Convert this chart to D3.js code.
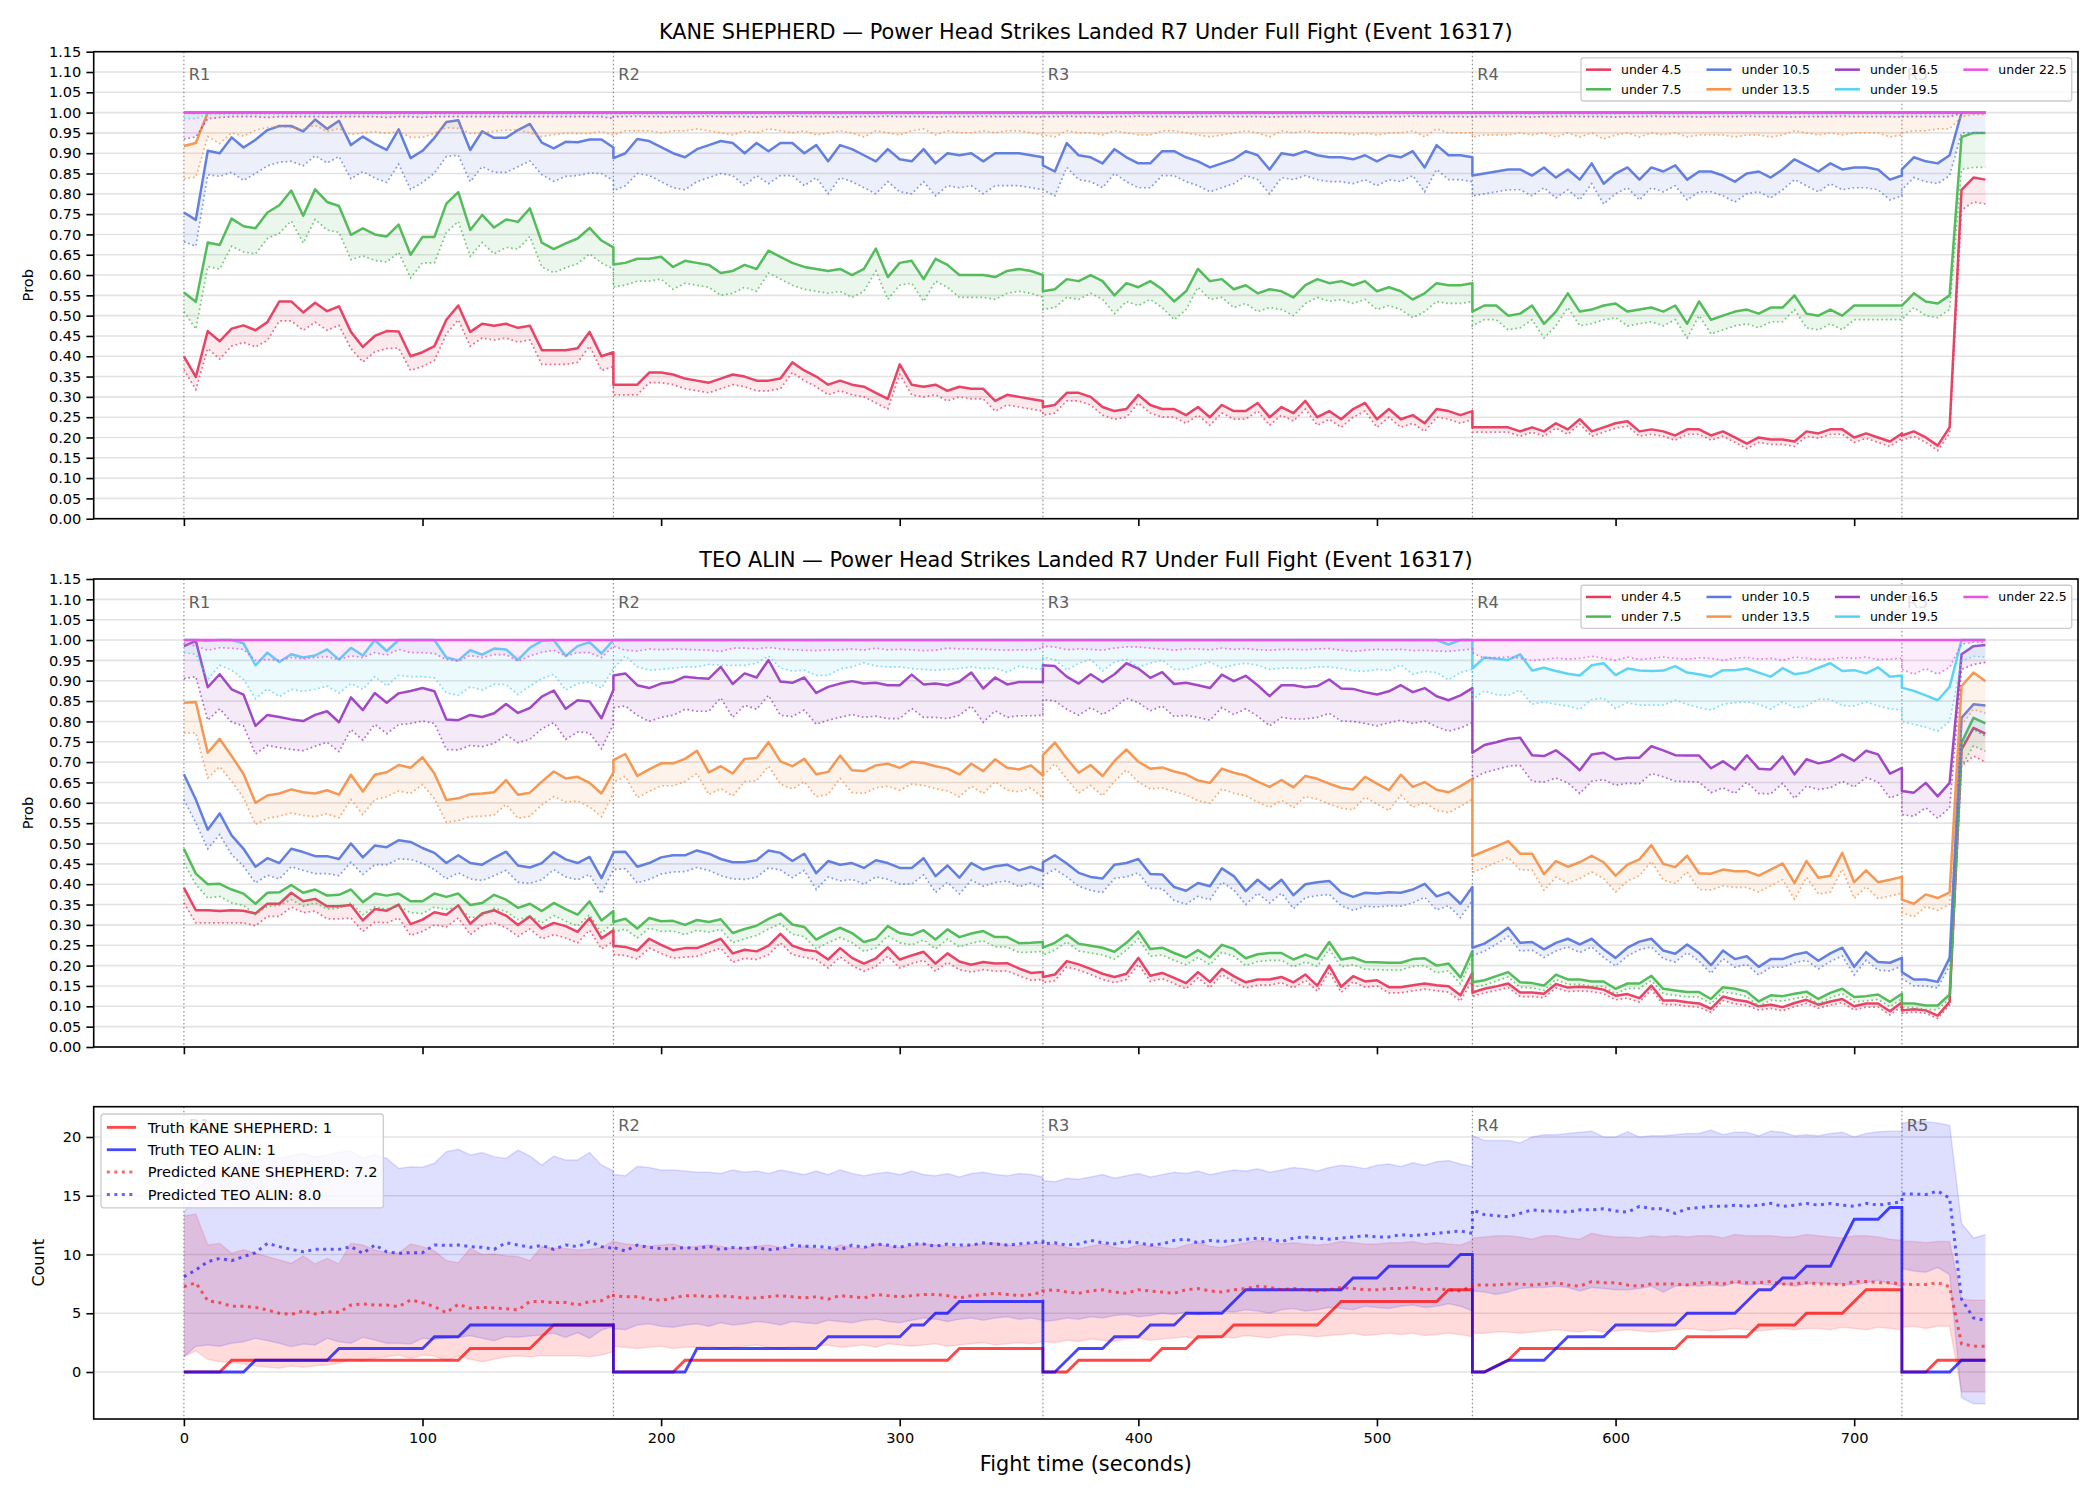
<!DOCTYPE html>
<html><head><meta charset="utf-8"><title>chart</title>
<script src="https://cdn.jsdelivr.net/npm/d3@7/dist/d3.min.js"></script>
<style>html,body{margin:0;padding:0;background:#fff}svg text{font-family:"DejaVu Sans",sans-serif}</style>
</head><body>
<svg id="chart" width="2100" height="1500"></svg>
<script>
// ================= DATA =================
const roundStarts=[0,180,360,540,720];
const roundLabels=["R1","R2","R3","R4","R5"];
const sampleStep=5;
const xTickValues=[0,100,200,300,400,500,600,700];
const probTickValues=[0,0.05,0.10,0.15,0.20,0.25,0.30,0.35,0.40,0.45,0.50,0.55,0.60,0.65,0.70,0.75,0.80,0.85,0.90,0.95,1.00,1.05,1.10,1.15];
const countTickValues=[0,5,10,15,20];
const seriesNames=["under 4.5","under 7.5","under 10.5","under 13.5","under 16.5","under 19.5","under 22.5"];
const panelTitles=["KANE SHEPHERD — Power Head Strikes Landed R7 Under Full Fight (Event 16317)","TEO ALIN — Power Head Strikes Landed R7 Under Full Fight (Event 16317)"];
const countLegendLabels=["Truth KANE SHEPHERD: 1","Truth TEO ALIN: 1","Predicted KANE SHEPHERD: 7.2","Predicted TEO ALIN: 8.0"];

const ones37=[1,1,1,1,1,1,1,1,1,1,1,1,1,1,1,1,1,1,1,1,1,1,1,1,1,1,1,1,1,1,1,1,1,1,1,1,1];
const ones8=[1,1,1,1,1,1,1,1];

// ---- KANE SHEPHERD (panel 1), per round ----
const kane_u45=[
[.40,.349,.462,.437,.468,.476,.464,.484,.535,.535,.508,.532,.511,.523,.46,.423,.45,.462,.461,.40,.41,.425,.49,.525,.46,.48,.475,.48,.47,.475,.415,.415,.415,.42,.46,.40,.41],
[.33,.33,.33,.36,.36,.355,.345,.34,.335,.345,.355,.35,.34,.34,.345,.385,.365,.35,.33,.34,.33,.325,.31,.295,.38,.33,.325,.33,.315,.325,.32,.32,.29,.305,.30,.295,.29],
[.275,.28,.31,.31,.30,.275,.265,.27,.305,.28,.27,.27,.255,.275,.25,.28,.265,.265,.285,.25,.275,.26,.29,.25,.265,.245,.27,.285,.245,.27,.245,.255,.235,.27,.265,.255,.265],
[.225,.225,.225,.225,.215,.225,.215,.235,.22,.245,.215,.225,.235,.24,.215,.22,.215,.205,.22,.22,.205,.215,.20,.185,.20,.195,.195,.19,.215,.21,.22,.22,.20,.21,.20,.19,.21],
[.205,.215,.20,.18,.225,.81,.84,.835]];
const kane_u45_lo=[
[.367,.318,.419,.393,.425,.434,.423,.439,.487,.487,.464,.484,.464,.476,.419,.386,.411,.419,.42,.365,.375,.39,.455,.49,.425,.445,.44,.445,.435,.44,.38,.38,.38,.385,.425,.365,.375],
[.305,.305,.305,.335,.335,.33,.32,.315,.31,.32,.33,.325,.315,.315,.32,.36,.34,.325,.305,.315,.305,.30,.285,.27,.355,.305,.30,.305,.29,.30,.295,.295,.265,.28,.275,.27,.265],
[.255,.26,.29,.29,.28,.255,.245,.25,.285,.26,.25,.25,.235,.255,.23,.26,.245,.245,.265,.23,.255,.24,.27,.23,.245,.225,.25,.265,.225,.25,.225,.235,.215,.25,.245,.235,.245],
[.213,.213,.213,.213,.203,.213,.203,.223,.208,.233,.203,.213,.223,.228,.203,.208,.203,.193,.208,.208,.193,.203,.188,.173,.188,.183,.183,.178,.203,.198,.208,.208,.188,.198,.188,.178,.198],
[.193,.203,.188,.168,.21,.76,.78,.775]];
const kane_u75=[
[.557,.534,.68,.674,.739,.72,.715,.754,.772,.808,.746,.811,.78,.77,.699,.715,.70,.695,.724,.65,.694,.694,.776,.804,.711,.748,.717,.737,.731,.764,.68,.664,.678,.69,.716,.685,.668],
[.626,.63,.64,.64,.645,.62,.635,.63,.625,.605,.61,.625,.615,.66,.645,.63,.62,.615,.61,.615,.60,.615,.665,.595,.63,.635,.59,.64,.625,.60,.60,.60,.595,.61,.615,.61,.60],
[.56,.565,.59,.585,.60,.585,.55,.58,.57,.585,.565,.535,.56,.615,.585,.59,.565,.575,.555,.565,.56,.545,.575,.59,.58,.585,.575,.585,.56,.57,.56,.54,.555,.58,.575,.575,.58],
[.51,.525,.525,.50,.505,.525,.48,.51,.555,.51,.515,.525,.53,.51,.515,.52,.51,.525,.48,.535,.49,.50,.51,.515,.505,.52,.52,.55,.505,.50,.515,.50,.525,.525,.525,.525,.525],
[.525,.555,.535,.53,.55,.94,.95,.95]];
const kane_u75_lo=[
[.51,.467,.621,.615,.671,.657,.652,.69,.703,.733,.679,.737,.711,.705,.638,.647,.636,.632,.656,.593,.63,.63,.705,.732,.646,.68,.652,.668,.664,.695,.62,.606,.618,.628,.652,.63,.615],
[.571,.575,.585,.585,.59,.565,.58,.575,.57,.55,.555,.57,.56,.605,.59,.575,.565,.56,.555,.56,.545,.56,.61,.54,.575,.58,.535,.585,.57,.545,.545,.545,.54,.555,.56,.555,.545],
[.515,.52,.545,.54,.555,.54,.505,.535,.525,.54,.52,.49,.515,.57,.54,.545,.52,.53,.51,.52,.515,.50,.53,.545,.535,.54,.53,.54,.515,.525,.515,.495,.51,.535,.53,.53,.535],
[.475,.49,.49,.465,.47,.49,.445,.475,.52,.475,.48,.49,.495,.475,.48,.485,.475,.49,.445,.50,.455,.465,.475,.48,.47,.485,.485,.515,.47,.465,.48,.465,.49,.49,.49,.49,.49],
[.49,.52,.50,.495,.515,.86,.865,.865]];
const kane_u105=[
[.754,.736,.906,.90,.939,.914,.933,.957,.967,.967,.954,.983,.96,.98,.92,.941,.923,.908,.959,.888,.906,.938,.977,.981,.908,.954,.938,.938,.957,.972,.926,.912,.928,.927,.934,.934,.914],
[.888,.90,.935,.93,.915,.90,.89,.91,.92,.93,.925,.90,.925,.905,.925,.925,.90,.92,.88,.92,.91,.895,.88,.91,.885,.88,.91,.875,.90,.895,.90,.88,.90,.90,.90,.895,.89],
[.87,.855,.925,.895,.89,.875,.91,.89,.875,.875,.905,.905,.89,.88,.865,.875,.885,.905,.895,.86,.90,.895,.905,.895,.89,.89,.885,.895,.88,.895,.89,.905,.865,.92,.895,.895,.89],
[.845,.85,.855,.86,.86,.845,.865,.84,.86,.835,.875,.825,.85,.865,.835,.865,.855,.87,.835,.855,.855,.845,.83,.85,.855,.84,.86,.885,.87,.855,.875,.86,.865,.865,.86,.835,.845],
[.86,.89,.88,.875,.895,1,1,1]];
const kane_u105_lo=[
[.682,.671,.847,.843,.853,.833,.85,.869,.878,.88,.869,.894,.876,.892,.837,.855,.839,.828,.873,.811,.828,.851,.892,.895,.83,.867,.853,.853,.867,.881,.847,.831,.843,.845,.851,.85,.833],
[.808,.82,.85,.845,.83,.815,.81,.83,.84,.85,.845,.82,.845,.825,.845,.845,.82,.84,.80,.84,.83,.815,.80,.83,.805,.80,.83,.795,.82,.815,.82,.80,.82,.82,.82,.815,.81],
[.81,.795,.865,.835,.83,.815,.85,.83,.815,.815,.845,.845,.83,.82,.805,.815,.825,.845,.835,.80,.84,.835,.845,.835,.83,.83,.825,.835,.82,.835,.83,.845,.805,.86,.835,.835,.83],
[.795,.80,.805,.81,.81,.795,.815,.79,.81,.785,.825,.775,.80,.815,.785,.815,.805,.82,.785,.805,.805,.795,.78,.80,.805,.79,.81,.835,.82,.805,.825,.81,.815,.815,.81,.785,.795],
[.81,.84,.83,.825,.845,.95,.95,.95]];
const kane_u135=[
[.918,.925,1,1,1,1,1,1,1,1,1,1,1,1,1,1,1,1,1,1,1,1,1,1,1,1,1,1,1,1,1,1,1,1,1,1,1],
ones37,ones37,ones37,ones8];
const kane_u135_lo=[
[.837,.841,.941,.924,.95,.942,.957,.963,.965,.963,.959,.969,.953,.961,.946,.95,.953,.949,.953,.939,.939,.949,.963,.961,.949,.949,.954,.957,.957,.95,.941,.946,.949,.949,.949,.953,.945],
[.945,.955,.955,.955,.95,.955,.955,.96,.955,.95,.945,.955,.95,.96,.955,.95,.955,.945,.95,.955,.95,.94,.955,.95,.945,.955,.96,.945,.955,.95,.95,.955,.95,.955,.955,.95,.945],
[.945,.94,.955,.95,.95,.945,.955,.95,.945,.945,.955,.955,.95,.945,.94,.945,.95,.955,.95,.94,.955,.95,.955,.95,.95,.95,.945,.95,.945,.95,.95,.955,.94,.96,.95,.95,.95],
[.94,.945,.945,.945,.95,.945,.95,.94,.95,.94,.95,.935,.945,.95,.94,.95,.945,.95,.94,.945,.945,.945,.94,.945,.945,.94,.945,.955,.95,.945,.95,.945,.95,.95,.95,.94,.945],
[.95,.955,.955,.96,.96,.99,.995,.995]];
const kane_u165=[ones37,ones37,ones37,ones37,ones8];
const kane_u165_lo=[
[.935,.94,.985,.988,.99,.99,.99,.988,.99,.99,.99,.99,.989,.99,.99,.99,.99,.988,.99,.99,.988,.99,.99,.99,.99,.99,.99,.99,.99,.99,.99,.99,.99,.99,.99,.99,.985],
[.99,.99,.991,.99,.99,.989,.99,.99,.991,.99,.99,.99,.989,.99,.99,.991,.99,.99,.99,.989,.99,.99,.99,.991,.99,.99,.99,.989,.99,.99,.99,.991,.99,.99,.99,.99,.989],
[.99,.99,.991,.99,.99,.989,.99,.99,.991,.99,.99,.99,.989,.99,.99,.991,.99,.99,.99,.989,.99,.99,.99,.991,.99,.99,.99,.989,.99,.99,.99,.991,.99,.99,.99,.99,.989],
[.99,.99,.991,.99,.99,.989,.99,.99,.991,.99,.99,.99,.989,.99,.99,.991,.99,.99,.99,.989,.99,.99,.99,.991,.99,.99,.99,.989,.99,.99,.99,.991,.99,.99,.99,.99,.989],
[.99,.99,.99,.99,.99,.998,.998,.998]];
const kane_u195=[ones37,ones37,ones37,ones37,ones8];
const kane_u195_lo=[
[.985,.985,.997,.997,.997,.997,.997,.997,.997,.997,.997,.997,.997,.997,.997,.997,.997,.997,.997,.997,.997,.997,.997,.997,.997,.997,.997,.997,.997,.997,.997,.997,.997,.997,.997,.997,.997],
[.997,.997,.997,.997,.997,.997,.997,.997,.997,.997,.997,.997,.997,.997,.997,.997,.997,.997,.997,.997,.997,.997,.997,.997,.997,.997,.997,.997,.997,.997,.997,.997,.997,.997,.997,.997,.997],
[.997,.997,.997,.997,.997,.997,.997,.997,.997,.997,.997,.997,.997,.997,.997,.997,.997,.997,.997,.997,.997,.997,.997,.997,.997,.997,.997,.997,.997,.997,.997,.997,.997,.997,.997,.997,.997],
[.997,.997,.997,.997,.997,.997,.997,.997,.997,.997,.997,.997,.997,.997,.997,.997,.997,.997,.997,.997,.997,.997,.997,.997,.997,.997,.997,.997,.997,.997,.997,.997,.997,.997,.997,.997,.997],
[.997,.997,.997,.997,.997,.999,.999,.999]];
const kane_u225=[ones37,ones37,ones37,ones37,ones8];
const kane_u225_lo=[
[.998,.998,.999,.999,.999,.999,.999,.999,.999,.999,.999,.999,.999,.999,.999,.999,.999,.999,.999,.999,.999,.999,.999,.999,.999,.999,.999,.999,.999,.999,.999,.999,.999,.999,.999,.999,.999],
[.999,.999,.999,.999,.999,.999,.999,.999,.999,.999,.999,.999,.999,.999,.999,.999,.999,.999,.999,.999,.999,.999,.999,.999,.999,.999,.999,.999,.999,.999,.999,.999,.999,.999,.999,.999,.999],
[.999,.999,.999,.999,.999,.999,.999,.999,.999,.999,.999,.999,.999,.999,.999,.999,.999,.999,.999,.999,.999,.999,.999,.999,.999,.999,.999,.999,.999,.999,.999,.999,.999,.999,.999,.999,.999],
[.999,.999,.999,.999,.999,.999,.999,.999,.999,.999,.999,.999,.999,.999,.999,.999,.999,.999,.999,.999,.999,.999,.999,.999,.999,.999,.999,.999,.999,.999,.999,.999,.999,.999,.999,.999,.999],
[.999,.999,.999,.999,.999,.999,.999,.999]];

// ---- TEO ALIN (panel 2), per round ----
const teo_u45=[
[.391,.336,.336,.334,.336,.335,.328,.352,.352,.379,.358,.364,.346,.346,.349,.311,.339,.335,.35,.302,.313,.331,.325,.348,.303,.328,.336,.323,.30,.321,.291,.305,.297,.283,.317,.267,.287],
[.249,.246,.237,.266,.251,.238,.243,.243,.254,.266,.23,.239,.235,.249,.278,.249,.239,.235,.215,.243,.219,.205,.218,.245,.215,.225,.234,.205,.23,.21,.202,.209,.205,.206,.193,.182,.184],
[.172,.178,.211,.203,.192,.18,.172,.18,.219,.175,.182,.17,.157,.184,.16,.192,.174,.159,.166,.166,.172,.159,.178,.151,.20,.148,.174,.161,.164,.147,.147,.152,.156,.152,.149,.127,.182],
[.134,.143,.149,.156,.134,.134,.131,.155,.146,.148,.146,.141,.126,.13,.12,.151,.114,.114,.11,.107,.094,.124,.116,.112,.10,.104,.098,.108,.116,.104,.112,.118,.10,.107,.107,.088,.11],
[.09,.093,.09,.077,.111,.731,.784,.77]];
const teo_u45_lo=[
[.354,.305,.305,.305,.305,.305,.298,.321,.321,.344,.33,.334,.315,.315,.317,.284,.307,.305,.317,.274,.284,.30,.295,.317,.276,.298,.305,.293,.272,.29,.266,.276,.268,.256,.287,.241,.26],
[.227,.225,.216,.243,.23,.218,.221,.223,.233,.243,.208,.218,.215,.227,.256,.227,.22,.215,.194,.221,.20,.186,.198,.223,.194,.205,.213,.186,.208,.19,.184,.19,.186,.187,.175,.164,.166],
[.158,.163,.197,.189,.178,.166,.158,.166,.203,.161,.168,.156,.143,.17,.146,.178,.16,.145,.152,.152,.158,.145,.164,.137,.185,.134,.16,.147,.15,.133,.133,.138,.142,.138,.135,.113,.165],
[.124,.133,.139,.146,.124,.124,.121,.145,.136,.138,.136,.131,.116,.12,.11,.141,.104,.104,.10,.098,.085,.114,.106,.102,.091,.095,.089,.099,.107,.095,.103,.109,.091,.098,.098,.079,.10],
[.083,.086,.083,.07,.104,.69,.715,.70]];
const teo_u75=[
[.487,.426,.40,.401,.387,.377,.352,.379,.38,.398,.379,.387,.372,.374,.387,.356,.377,.372,.377,.358,.358,.377,.369,.377,.349,.354,.374,.362,.342,.352,.334,.354,.339,.325,.358,.311,.334],
[.307,.315,.291,.317,.309,.31,.30,.312,.307,.314,.28,.29,.298,.315,.328,.301,.295,.264,.28,.293,.28,.258,.266,.297,.28,.275,.287,.264,.289,.27,.279,.285,.27,.27,.255,.256,.258],
[.244,.256,.276,.254,.249,.244,.234,.256,.284,.241,.244,.231,.22,.238,.22,.251,.241,.218,.228,.231,.231,.215,.227,.216,.258,.215,.22,.209,.208,.207,.207,.216,.218,.20,.205,.171,.236],
[.159,.164,.174,.184,.159,.157,.151,.178,.166,.166,.161,.161,.143,.156,.156,.175,.143,.139,.135,.135,.118,.147,.143,.136,.112,.127,.125,.131,.136,.118,.133,.143,.123,.125,.129,.111,.131],
[.107,.107,.102,.102,.129,.748,.809,.795]];
const teo_u75_lo=[
[.452,.40,.366,.37,.354,.348,.325,.346,.348,.362,.346,.354,.339,.341,.354,.325,.344,.339,.346,.33,.328,.344,.338,.344,.317,.323,.341,.333,.313,.321,.305,.323,.309,.297,.325,.28,.305],
[.282,.29,.268,.292,.284,.285,.276,.287,.282,.289,.256,.266,.274,.29,.303,.277,.271,.241,.256,.269,.256,.235,.243,.273,.256,.251,.263,.241,.265,.246,.255,.261,.246,.246,.232,.233,.235],
[.226,.238,.258,.236,.231,.226,.216,.238,.266,.223,.226,.213,.202,.22,.202,.233,.223,.20,.21,.213,.213,.197,.209,.198,.24,.197,.202,.191,.19,.189,.189,.198,.20,.182,.187,.155,.218],
[.147,.152,.162,.172,.147,.145,.139,.166,.154,.154,.149,.149,.131,.144,.144,.163,.131,.127,.123,.123,.106,.135,.131,.124,.10,.115,.113,.119,.124,.106,.121,.131,.111,.113,.117,.099,.119],
[.097,.097,.092,.092,.119,.69,.74,.727]];
const teo_u105=[
[.67,.608,.534,.574,.52,.487,.443,.464,.452,.487,.479,.469,.469,.462,.50,.466,.495,.491,.508,.504,.489,.477,.452,.471,.452,.448,.465,.48,.446,.441,.452,.479,.461,.452,.467,.415,.477],
[.479,.48,.443,.452,.466,.471,.471,.483,.475,.462,.454,.454,.459,.483,.477,.457,.475,.427,.457,.448,.452,.44,.459,.452,.44,.44,.464,.42,.446,.416,.452,.436,.444,.448,.434,.443,.432],
[.454,.471,.451,.428,.418,.414,.448,.452,.462,.425,.424,.393,.384,.403,.395,.439,.42,.383,.411,.387,.411,.373,.40,.405,.408,.38,.369,.379,.377,.38,.379,.387,.401,.37,.38,.352,.393],
[.244,.254,.272,.293,.256,.258,.24,.256,.266,.252,.266,.24,.219,.244,.259,.266,.237,.229,.252,.231,.201,.237,.216,.223,.197,.216,.216,.227,.233,.212,.23,.244,.197,.233,.209,.207,.219],
[.184,.166,.166,.16,.219,.809,.842,.839]];
const teo_u105_lo=[
[.608,.551,.487,.522,.473,.444,.403,.422,.413,.443,.434,.426,.426,.421,.454,.424,.448,.448,.462,.461,.451,.436,.413,.428,.413,.409,.421,.434,.405,.402,.411,.436,.418,.411,.424,.377,.436],
[.436,.438,.403,.412,.425,.43,.431,.441,.434,.421,.413,.412,.417,.44,.435,.416,.434,.387,.418,.408,.412,.40,.418,.412,.40,.40,.423,.38,.405,.376,.41,.395,.404,.408,.394,.403,.39],
[.42,.437,.418,.395,.385,.38,.414,.418,.428,.39,.389,.36,.351,.37,.362,.405,.386,.35,.378,.354,.378,.34,.367,.372,.375,.347,.336,.346,.344,.347,.346,.354,.368,.337,.347,.318,.36],
[.225,.235,.252,.272,.236,.238,.22,.236,.246,.232,.246,.22,.199,.224,.239,.246,.217,.209,.232,.211,.181,.217,.196,.203,.177,.196,.196,.207,.213,.192,.21,.224,.177,.213,.189,.187,.199],
[.168,.15,.15,.145,.20,.74,.78,.764]];
const teo_u135=[
[.846,.848,.723,.757,.715,.671,.60,.618,.623,.633,.626,.623,.631,.62,.669,.628,.669,.675,.693,.686,.712,.672,.607,.611,.621,.623,.626,.656,.62,.625,.652,.677,.66,.664,.649,.623,.674],
[.705,.72,.666,.682,.697,.697,.708,.728,.675,.69,.672,.708,.71,.749,.702,.69,.708,.67,.676,.716,.68,.678,.692,.696,.686,.701,.698,.69,.684,.67,.696,.678,.707,.686,.682,.692,.667],
[.717,.748,.709,.674,.693,.666,.703,.731,.701,.684,.687,.677,.67,.655,.649,.684,.674,.667,.652,.639,.656,.638,.666,.659,.647,.637,.633,.664,.647,.631,.669,.639,.651,.632,.626,.641,.659],
[.469,.481,.493,.506,.475,.475,.425,.457,.443,.454,.47,.454,.421,.448,.461,.496,.45,.442,.47,.427,.426,.436,.432,.432,.421,.436,.451,.403,.457,.416,.421,.477,.405,.434,.405,.411,.418],
[.362,.352,.375,.366,.38,.887,.92,.899]];
const teo_u135_lo=[
[.772,.772,.661,.689,.653,.612,.547,.562,.567,.575,.569,.566,.573,.563,.608,.571,.608,.615,.629,.623,.645,.61,.552,.557,.566,.567,.57,.596,.562,.567,.595,.615,.602,.604,.59,.566,.623],
[.651,.665,.613,.628,.642,.642,.652,.672,.62,.635,.617,.652,.654,.69,.646,.634,.652,.615,.621,.66,.625,.623,.637,.641,.631,.646,.643,.635,.629,.615,.641,.623,.652,.631,.627,.637,.612],
[.667,.696,.659,.624,.643,.617,.653,.681,.651,.634,.637,.627,.62,.605,.599,.634,.624,.617,.602,.589,.606,.588,.616,.609,.597,.587,.583,.614,.597,.581,.619,.589,.601,.582,.576,.591,.609],
[.429,.441,.453,.466,.435,.435,.385,.417,.403,.414,.43,.414,.381,.408,.421,.456,.41,.402,.43,.387,.386,.396,.392,.392,.381,.396,.411,.363,.417,.376,.381,.437,.365,.394,.365,.371,.378],
[.33,.32,.345,.336,.35,.79,.83,.82]];
const teo_u165=[
[.985,.998,.884,.916,.879,.866,.789,.816,.811,.805,.801,.816,.825,.798,.859,.828,.87,.846,.869,.875,.882,.874,.805,.803,.816,.811,.82,.843,.821,.833,.861,.876,.831,.852,.849,.808,.877],
[.913,.918,.889,.882,.893,.897,.91,.907,.905,.934,.892,.918,.908,.951,.898,.895,.908,.87,.885,.893,.899,.893,.895,.889,.889,.915,.891,.893,.889,.898,.92,.881,.908,.891,.897,.897,.897],
[.938,.936,.91,.893,.916,.897,.916,.943,.93,.907,.921,.892,.895,.889,.882,.915,.899,.912,.889,.862,.889,.889,.884,.887,.903,.881,.88,.872,.866,.874,.889,.872,.882,.862,.852,.864,.882],
[.723,.742,.749,.757,.76,.717,.715,.729,.707,.68,.719,.723,.707,.711,.711,.739,.729,.717,.716,.716,.685,.702,.682,.717,.684,.682,.714,.67,.707,.697,.703,.719,.703,.728,.719,.672,.686],
[.629,.625,.649,.616,.649,.965,.985,.988]];
const teo_u165_lo=[
[.905,.91,.803,.831,.798,.789,.72,.741,.736,.731,.728,.739,.749,.726,.78,.754,.793,.77,.792,.795,.801,.795,.731,.73,.741,.738,.746,.767,.748,.756,.782,.797,.756,.774,.772,.733,.793],
[.834,.838,.815,.80,.81,.815,.83,.825,.825,.858,.81,.84,.83,.864,.815,.812,.828,.793,.803,.81,.817,.81,.813,.807,.807,.832,.81,.81,.807,.815,.838,.798,.826,.81,.814,.814,.815],
[.854,.85,.83,.815,.834,.817,.834,.857,.846,.826,.838,.812,.815,.81,.803,.834,.817,.831,.813,.789,.81,.806,.806,.81,.82,.801,.80,.795,.789,.797,.803,.795,.801,.787,.776,.784,.797],
[.659,.674,.682,.69,.692,.653,.651,.661,.649,.623,.653,.657,.643,.648,.647,.672,.664,.653,.652,.651,.625,.637,.623,.651,.623,.622,.648,.611,.641,.633,.637,.653,.639,.662,.651,.612,.623],
[.571,.567,.588,.562,.588,.928,.94,.945]];
const teo_u195=[
[1,1,.998,1,1,.992,.938,.969,.946,.965,.957,.962,.977,.952,.981,.962,1,.973,1,1,1,1,.957,.95,.975,.964,.979,.977,.951,.981,.998,1,.961,.985,.995,.967,1],
ones37,
[1,1,1,1,1,1,1,1,1,1,1,1,1,1,1,1,1,1,1,1,1,1,1,1,1,1,1,1,1,1,1,1,1,1,.989,1,1],
[.93,.957,.954,.951,.965,.925,.932,.924,.917,.913,.938,.943,.914,.93,.925,.924,.925,.936,.92,.916,.91,.926,.926,.93,.92,.91,.931,.916,.92,.932,.943,.924,.926,.918,.933,.91,.913],
[.883,.875,.864,.852,.885,1,1,1]];
const teo_u195_lo=[
[.969,.965,.903,.938,.926,.903,.856,.88,.861,.879,.874,.879,.887,.87,.893,.879,.91,.887,.913,.91,.91,.907,.87,.864,.885,.877,.891,.891,.866,.887,.905,.916,.877,.893,.897,.882,.93],
[.93,.961,.934,.926,.928,.931,.934,.934,.94,.938,.938,.938,.943,.961,.931,.924,.926,.913,.913,.929,.934,.944,.936,.934,.934,.93,.928,.926,.928,.93,.934,.93,.931,.921,.936,.931,.928],
[.957,.952,.926,.943,.952,.924,.946,.952,.934,.943,.951,.928,.928,.938,.946,.931,.939,.943,.938,.928,.931,.931,.93,.934,.934,.93,.925,.923,.928,.925,.939,.916,.923,.92,.902,.92,.928],
[.854,.875,.866,.864,.877,.842,.848,.842,.838,.83,.854,.857,.832,.846,.84,.84,.84,.852,.842,.834,.828,.842,.846,.848,.842,.83,.848,.834,.838,.854,.854,.839,.838,.848,.838,.831,.828],
[.80,.793,.786,.776,.80,.948,.96,.958]];
const teo_u225=[ones37,ones37,ones37,ones37,ones8];
const teo_u225_lo=[
[.993,.985,.975,.981,.98,.977,.95,.952,.95,.957,.954,.957,.959,.952,.961,.957,.969,.963,.977,.969,.969,.967,.952,.948,.962,.957,.964,.964,.948,.961,.97,.975,.961,.969,.969,.957,.985],
[.985,.975,.973,.978,.976,.978,.977,.976,.975,.972,.98,.98,.978,.982,.978,.976,.975,.974,.976,.976,.978,.975,.98,.976,.977,.976,.974,.975,.98,.978,.978,.977,.976,.975,.976,.976,.98],
[.985,.983,.976,.978,.977,.975,.98,.983,.983,.98,.978,.975,.978,.978,.976,.98,.977,.979,.976,.975,.977,.977,.976,.978,.979,.975,.972,.975,.977,.976,.977,.974,.975,.973,.972,.975,.978],
[.969,.955,.957,.958,.955,.95,.952,.956,.953,.955,.96,.955,.95,.958,.952,.955,.958,.955,.953,.956,.955,.95,.955,.957,.953,.955,.95,.958,.955,.952,.953,.957,.955,.958,.952,.953,.955],
[.928,.916,.93,.916,.933,.99,.995,.995]];

// ---- Counts (panel 3), per round ----
const truthKane=[
[0,0,0,0,1,1,1,1,1,1,1,1,1,1,1,1,1,1,1,1,1,1,1,1,2,2,2,2,2,2,3,4,4,4,4,4,4],
[0,0,0,0,0,0,1,1,1,1,1,1,1,1,1,1,1,1,1,1,1,1,1,1,1,1,1,1,1,2,2,2,2,2,2,2,2],
[0,0,0,1,1,1,1,1,1,1,2,2,2,3,3,3,4,4,4,4,4,4,4,4,5,6,6,6,6,6,6,6,6,6,7,7,7],
[0,0,.5,1,2,2,2,2,2,2,2,2,2,2,2,2,2,2,3,3,3,3,3,3,4,4,4,4,5,5,5,5,6,7,7,7,7],
[0,0,0,1,1,1,1,1]];
const truthTeo=[
[0,0,0,0,0,0,1,1,1,1,1,1,1,2,2,2,2,2,2,2,2,3,3,3,4,4,4,4,4,4,4,4,4,4,4,4,4],
[0,0,0,0,0,0,0,2,2,2,2,2,2,2,2,2,2,2,3,3,3,3,3,3,3,4,4,5,5,6,6,6,6,6,6,6,6],
[0,0,1,2,2,2,3,3,3,4,4,4,5,5,5,5,6,7,7,7,7,7,7,7,7,7,8,8,8,9,9,9,9,9,9,10,10],
[0,0,.5,1,1,1,1,2,3,3,3,3,4,4,4,4,4,4,5,5,5,5,5,6,7,7,8,8,9,9,9,11,13,13,13,14,14],
[0,0,0,0,0,1,1,1]];
const predKane=[
[7.26,7.6,6.07,5.9,5.6,5.6,5.5,5.28,5.0,4.9,5.2,4.94,5.13,5.08,5.7,5.79,5.7,5.7,5.56,6.13,5.9,5.56,5.05,5.76,5.42,5.5,5.45,5.39,5.28,5.99,5.99,5.9,5.93,5.7,5.99,6.07,6.64],
[6.5,6.4,6.4,6.2,6.1,6.3,6.5,6.5,6.4,6.5,6.4,6.3,6.3,6.4,6.5,6.4,6.3,6.4,6.2,6.5,6.4,6.3,6.6,6.5,6.4,6.5,6.6,6.6,6.5,6.3,6.5,6.6,6.7,6.6,6.5,6.6,6.8],
[6.9,7.0,6.8,6.7,6.9,7.0,6.8,6.7,7.0,6.9,6.8,6.7,7.0,7.1,6.9,6.8,7.0,7.1,7.3,7.2,7.0,7.1,7.0,6.9,7.0,7.2,7.1,7.0,7.0,7.1,7.1,7.2,7.0,7.1,7.0,6.9,7.3],
[7.4,7.4,7.4,7.5,7.5,7.4,7.5,7.6,7.4,7.3,7.7,7.6,7.6,7.4,7.3,7.5,7.5,7.5,7.4,7.6,7.6,7.5,7.7,7.6,7.6,7.7,7.5,7.5,7.6,7.5,7.5,7.4,7.7,7.7,7.6,7.6,7.5],
[7.5,7.45,7.45,7.6,7.26,2.4,2.2,2.2]];
const predTeo=[
[8.11,8.68,9.39,9.67,9.48,9.82,10.16,10.95,10.67,10.44,10.24,10.44,10.44,10.44,10.67,10.1,10.81,10.24,10.1,10.16,10.16,10.81,10.78,10.81,10.67,10.61,10.44,11.0,10.81,10.61,10.78,10.44,10.81,10.67,11.09,10.67,10.52],
[10.6,10.3,10.8,10.6,10.5,10.5,10.6,10.5,10.7,10.4,10.6,10.5,10.6,10.4,10.5,10.8,10.7,10.7,10.6,10.4,10.8,10.6,10.9,10.8,10.6,10.9,10.9,10.7,10.9,10.8,10.8,11.0,10.9,10.8,10.9,11.0,11.1],
[10.9,11.0,10.8,10.9,11.2,11.0,10.9,11.1,11.0,10.8,10.9,11.2,11.3,11.0,11.2,11.1,11.2,11.3,11.4,11.3,11.1,11.4,11.5,11.4,11.3,11.4,11.5,11.6,11.5,11.5,11.7,11.6,11.7,11.8,11.9,12.0,11.8],
[13.8,13.4,13.3,13.2,13.5,13.8,13.7,13.7,13.6,13.8,13.8,13.9,13.7,13.6,14.1,13.9,13.9,13.5,13.9,14.0,14.1,14.1,14.2,14.1,14.2,14.35,14.1,14.2,14.35,14.2,14.35,14.2,14.1,14.35,14.2,14.35,14.5],
[15.15,15.15,15.1,15.4,14.8,6.2,4.6,4.4]];
const bandKaneHi=[
[13.28,13.45,10.81,10.95,10.1,10.4,10.1,9.82,9.53,9.25,9.87,9.2,9.67,9.2,10.95,10.81,10.38,10.18,10.1,10.89,10.67,10.3,9.48,9.3,10.52,10.0,10.04,9.9,9.82,9.48,10.67,10.52,10.52,10.38,10.44,10.58,11.18],
[11.1,10.9,10.8,10.7,10.8,10.9,10.6,10.7,10.8,10.7,10.5,10.6,10.7,10.8,10.6,10.5,10.7,10.5,10.4,10.8,10.6,10.5,10.9,10.7,10.6,10.7,10.9,10.8,10.7,10.6,10.8,10.9,11.0,10.8,10.7,10.9,11.0],
[10.7,10.9,10.6,10.5,10.7,10.9,10.6,10.5,10.8,10.7,10.6,10.5,10.8,11.0,10.7,10.6,10.8,11.0,11.2,11.1,10.9,11.0,10.9,10.8,10.9,11.1,11.0,10.9,10.9,11.0,11.0,11.1,10.9,11.0,10.9,10.8,11.2],
[11.4,11.5,11.6,11.6,11.5,11.3,11.6,11.6,11.4,11.3,11.8,11.6,11.5,11.5,11.4,11.6,11.5,11.6,11.5,11.6,11.6,11.4,11.7,11.6,11.6,11.6,11.5,11.5,11.7,11.6,11.5,11.4,11.6,11.6,11.5,11.3,11.2],
[11.1,11.1,11.0,11.1,11.1,6.2,6.1,6.1]];
const bandKaneLo=[
[1.3,1.8,1.08,0.88,0.8,0.68,0.51,0.4,0.31,0.51,0.4,0.54,0.6,0.74,1.08,0.96,1.16,1.3,1.45,1.16,1.45,1.36,0.96,1.36,1.08,0.88,1.08,1.3,1.36,1.3,1.39,1.39,1.39,1.39,1.3,1.45,1.73],
[2.2,2.1,2.0,2.1,2.2,2.0,2.1,2.1,2.2,2.0,2.1,2.2,2.3,2.1,2.0,2.2,2.1,2.2,2.3,2.1,2.2,2.3,2.1,2.4,2.3,2.2,2.3,2.4,2.2,2.3,2.4,2.5,2.3,2.4,2.5,2.4,2.6],
[2.6,2.5,2.7,2.6,2.8,2.7,2.6,2.8,2.9,2.7,2.8,2.9,3.0,2.8,2.9,3.0,2.9,3.1,3.0,2.9,3.1,3.2,3.1,3.0,3.1,3.2,3.3,3.1,3.2,3.3,3.2,3.3,3.1,3.2,3.3,3.2,3.0],
[3.3,3.3,3.4,3.4,3.3,3.4,3.5,3.6,3.5,3.4,3.6,3.4,3.5,3.6,3.5,3.4,3.5,3.6,3.7,3.6,3.5,3.6,3.7,3.6,3.5,3.6,3.7,3.6,3.7,3.7,3.6,3.8,3.7,3.6,3.8,3.7,3.6],
[3.8,3.9,3.7,3.9,3.9,-1.7,-1.7,-1.7]];
const bandTeoHi=[
[13.5,15.5,16.5,17.0,17.5,17.8,18.0,18.3,18.2,18.4,18.6,18.3,18.5,18.7,18.8,18.2,18.5,18.18,17.33,17.47,17.42,17.76,18.75,18.95,18.47,18.67,18.33,18.18,18.89,18.38,17.62,18.38,18.04,18.04,18.69,17.62,17.11],
[16.8,16.7,17.5,17.4,17.2,17.2,17.1,17.0,17.0,16.9,17.2,17.0,17.1,16.9,17.2,17.0,16.8,17.1,16.8,17.2,16.9,16.7,16.9,17.0,16.8,17.1,16.8,16.7,16.9,16.6,16.9,17.0,16.8,16.7,16.9,16.8,16.6],
[16.3,16.2,16.5,16.4,16.6,16.8,16.5,16.7,16.9,16.6,16.8,17.0,16.9,17.1,16.8,17.0,17.2,17.1,17.3,17.0,17.2,17.4,17.3,17.1,17.4,17.6,17.5,17.3,17.6,17.7,17.5,17.8,17.6,17.9,18.0,17.7,17.5],
[20.1,19.7,19.7,19.7,19.5,20.0,20.2,20.2,20.3,20.4,20.5,20.0,20.0,20.45,20.0,20.1,20.1,20.2,20.3,20.3,20.6,20.2,20.4,20.4,20.1,20.5,20.4,20.1,20.2,20.1,20.3,20.4,20.0,20.3,20.45,20.5,20.5],
[21.2,21.3,21.3,21.2,21.0,12.65,11.4,11.7]];
const bandTeoLo=[
[1.3,2.2,2.3,2.2,2.44,2.58,2.87,2.67,2.44,2.16,2.38,2.3,2.87,2.58,2.44,2.95,2.72,2.44,2.44,2.38,2.87,2.78,2.87,2.95,3.09,2.87,2.67,3.01,2.95,3.07,3.15,3.3,2.95,3.35,2.87,3.57,3.86],
[3.7,3.6,4.0,4.1,3.9,3.8,4.0,4.1,3.9,4.2,4.0,4.1,4.3,4.2,4.0,4.3,4.2,4.1,4.4,4.3,4.2,4.4,4.5,4.3,4.2,4.4,4.6,4.5,4.3,4.5,4.6,4.4,4.6,4.7,4.5,4.6,4.4],
[4.3,4.4,4.6,4.5,4.7,4.6,4.8,4.9,4.7,4.8,5.0,4.9,5.1,4.9,5.0,5.2,5.1,5.3,5.2,5.0,5.3,5.4,5.2,5.3,5.5,5.4,5.3,5.6,5.5,5.4,5.6,5.7,5.5,5.6,5.8,5.6,5.2],
[6.9,6.8,6.6,6.8,7.1,7.2,7.2,7.3,7.2,6.9,7.2,7.1,7.0,7.0,7.1,7.3,6.8,7.3,7.4,7.3,7.4,7.3,7.6,7.4,7.5,7.4,7.5,7.3,7.5,7.6,7.5,7.5,7.4,7.6,7.8,7.5,7.3],
[8.8,8.6,8.5,8.9,8.3,-2.2,-2.7,-2.7]];

// ================= STYLE / LAYOUT =================
const seriesColors=["#e8395d","#4cb853","#5b79de","#f6914a","#9c3fc2","#55d2f3","#ee4ee6"];
const FIG={left:93.7,right:2078};
const panels=[{top:51.7,bottom:518.7},{top:579,bottom:1047},{top:1106.7,bottom:1419}];
const FS={title:20.8,tick:14.6,legendSmall:12.5,legend:14.6,label:14.6,xlabel:20.8,rlab:16.2};

const svg=d3.select('#chart');
svg.append('rect').attr('width',2100).attr('height',1500).attr('fill','#fff');
const x=d3.scaleLinear().domain([-37.8,793.8]).range([FIG.left,FIG.right]);

function series(rounds){
  const out=[];
  rounds.forEach((r,i)=>r.forEach((v,k)=>out.push({t:roundStarts[i]+sampleStep*k,v:v})));
  return out;
}
function pairs(hiR,loR){
  const a=series(hiR), b=series(loR); const n=Math.min(a.length,b.length);
  const out=[]; for(let i=0;i<n;i++) out.push({t:a[i].t,hi:a[i].v,lo:b[i].v}); return out;
}

function drawGrid(g,p,y,ticks){
  ticks.forEach(t=>{
    g.append('line').attr('x1',FIG.left).attr('x2',FIG.right).attr('y1',y(t)).attr('y2',y(t))
     .attr('stroke','#b0b0b0').attr('stroke-opacity',0.35).attr('stroke-width',1.6);
  });
}
function drawAxes(g,p,y,ticks,fmt,showXLabels){
  const ya=d3.axisLeft(y).tickValues(ticks).tickFormat(fmt).tickSize(7.3).tickPadding(5);
  const ga=g.append('g').attr('transform',`translate(${FIG.left},0)`).call(ya);
  ga.select('.domain').remove();
  ga.selectAll('line').attr('stroke','#000').attr('stroke-width',1.6);
  ga.selectAll('text').attr('font-size',FS.tick).attr('fill','#000').attr('font-family','DejaVu Sans');
  const xa=d3.axisBottom(x).tickValues(xTickValues).tickSize(7.3).tickPadding(6).tickFormat(showXLabels?d3.format('d'):()=>'');
  const gx=g.append('g').attr('transform',`translate(0,${p.bottom})`).call(xa);
  gx.select('.domain').remove();
  gx.selectAll('line').attr('stroke','#000').attr('stroke-width',1.6);
  gx.selectAll('text').attr('font-size',FS.tick).attr('fill','#000').attr('font-family','DejaVu Sans');
  g.append('rect').attr('x',FIG.left).attr('y',p.top).attr('width',FIG.right-FIG.left).attr('height',p.bottom-p.top)
   .attr('fill','none').attr('stroke','#000').attr('stroke-width',1.6);
}
function drawRounds(g,p){
  const h=p.bottom-p.top;
  roundStarts.forEach((s,i)=>{
    g.append('line').attr('x1',x(s)).attr('x2',x(s)).attr('y1',p.top).attr('y2',p.bottom)
     .attr('stroke','#444').attr('stroke-opacity',0.6).attr('stroke-width',1.2).attr('stroke-dasharray','1.5,2.5');
    g.append('text').attr('x',x(s+2)).attr('y',p.top+0.03*h+14.5).text(roundLabels[i])
     .attr('font-size',FS.rlab).attr('fill','#606060');
  });
}

function probPanel(pi,lines,lows){
  const p=panels[pi];
  const y=d3.scaleLinear().domain([0,1.15]).range([p.bottom,p.top]);
  const g=svg.append('g');
  const cid='clip'+pi;
  svg.append('clipPath').attr('id',cid).append('rect').attr('x',FIG.left).attr('y',p.top).attr('width',FIG.right-FIG.left).attr('height',p.bottom-p.top);
  drawGrid(g,p,y,probTickValues);
  const gd=g.append('g').attr('clip-path',`url(#${cid})`);
  drawRounds(gd,p);
  lines.forEach((L,i)=>{
    const d=pairs(L,lows[i]);
    const c=seriesColors[i];
    gd.append('path').datum(d).attr('d',d3.area().x(e=>x(e.t)).y0(e=>y(e.lo)).y1(e=>y(e.hi)))
      .attr('fill',c).attr('fill-opacity',0.11).attr('stroke','none');
    gd.append('path').datum(d).attr('d',d3.line().x(e=>x(e.t)).y(e=>y(e.hi)))
      .attr('fill','none').attr('stroke',c).attr('stroke-width',2.5).attr('stroke-opacity',0.95).attr('stroke-linejoin','round');
    gd.append('path').datum(d).attr('d',d3.line().x(e=>x(e.t)).y(e=>y(e.lo)))
      .attr('fill','none').attr('stroke',c).attr('stroke-width',1.7).attr('stroke-opacity',0.75).attr('stroke-dasharray','1.7,2.8');
  });
  drawAxes(g,p,y,probTickValues,d3.format('.2f'),false);
  g.append('text').attr('x',(FIG.left+FIG.right)/2).attr('y',p.top-12.5).attr('text-anchor','middle')
   .attr('font-size',FS.title).attr('fill','#000').text(panelTitles[pi]);
  g.append('text').attr('transform',`translate(33,${(p.top+p.bottom)/2}) rotate(-90)`).attr('text-anchor','middle')
   .attr('font-size',FS.label).attr('fill','#000').text('Prob');
  // legend (upper right, 4 columns)
  const fs=FS.legendSmall, pad=0.4*fs, hl=2*fs, htp=0.8*fs, cs=2*fs, rowH=13.4, ls=0.5*fs;
  const lg=g.append('g');
  const frame=lg.append('rect');
  const ncol=4, nrow=2;
  const tmp=seriesNames.map(n=>{const t=lg.append('text').attr('font-size',fs).text(n);const w=t.node().getComputedTextLength();t.remove();return w;});
  const colW=[];
  for(let c=0;c<ncol;c++){let m=0;for(let r=0;r<nrow;r++){const k=c*nrow+r;if(k<seriesNames.length)m=Math.max(m,tmp[k]);}colW.push(m);}
  const totalW=2*pad+colW.reduce((a,w)=>a+hl+htp+w,0)+(ncol-1)*cs;
  const totalH=2*pad+nrow*rowH+(nrow-1)*ls;
  const bx=FIG.right-0.5*fs-totalW, by=p.top+0.5*fs;
  frame.attr('x',bx).attr('y',by).attr('width',totalW).attr('height',totalH).attr('rx',2.5)
    .attr('fill','#fff').attr('fill-opacity',0.8).attr('stroke','#cccccc').attr('stroke-width',1.3);
  let cx=bx+pad;
  for(let c=0;c<ncol;c++){
    for(let r=0;r<nrow;r++){
      const k=c*nrow+r; if(k>=seriesNames.length) continue;
      const cy=by+pad+r*(rowH+ls)+rowH/2;
      lg.append('line').attr('x1',cx).attr('x2',cx+hl).attr('y1',cy).attr('y2',cy).attr('stroke',seriesColors[k]).attr('stroke-width',2.5);
      lg.append('text').attr('x',cx+hl+htp).attr('y',cy+0.36*fs).attr('font-size',fs).attr('fill','#000').text(seriesNames[k]);
    }
    cx+=hl+htp+colW[c]+cs;
  }
}

probPanel(0,[kane_u45,kane_u75,kane_u105,kane_u135,kane_u165,kane_u195,kane_u225],
  [kane_u45_lo,kane_u75_lo,kane_u105_lo,kane_u135_lo,kane_u165_lo,kane_u195_lo,kane_u225_lo]);
probPanel(1,[teo_u45,teo_u75,teo_u105,teo_u135,teo_u165,teo_u195,teo_u225],
  [teo_u45_lo,teo_u75_lo,teo_u105_lo,teo_u135_lo,teo_u165_lo,teo_u195_lo,teo_u225_lo]);

// ---- count panel ----
(function(){
  const p=panels[2];
  const y=d3.scaleLinear().domain([-4.0,22.58]).range([p.bottom,p.top]);
  const g=svg.append('g');
  svg.append('clipPath').attr('id','clip2').append('rect').attr('x',FIG.left).attr('y',p.top).attr('width',FIG.right-FIG.left).attr('height',p.bottom-p.top);
  drawGrid(g,p,y,countTickValues);
  const gd=g.append('g').attr('clip-path','url(#clip2)');
  const red='#ff0000', blue='#0000ff';
  const kb=pairs(bandKaneHi,bandKaneLo), tb=pairs(bandTeoHi,bandTeoLo);
  [[kb,red,0.14],[tb,blue,0.13]].forEach(([d,c,a])=>{
    gd.append('path').datum(d).attr('d',d3.area().x(e=>x(e.t)).y0(e=>y(e.lo)).y1(e=>y(e.hi))).attr('fill',c).attr('fill-opacity',a);
    gd.append('path').datum(d).attr('d',d3.line().x(e=>x(e.t)).y(e=>y(e.hi))).attr('fill','none').attr('stroke',c).attr('stroke-opacity',0.12).attr('stroke-width',1.5);
    gd.append('path').datum(d).attr('d',d3.line().x(e=>x(e.t)).y(e=>y(e.lo))).attr('fill','none').attr('stroke',c).attr('stroke-opacity',0.12).attr('stroke-width',1.5);
  });
  drawRounds(gd,p);
  const ln=d3.line().x(e=>x(e.t)).y(e=>y(e.v));
  gd.append('path').datum(series(truthKane)).attr('d',ln).attr('fill','none').attr('stroke',red).attr('stroke-opacity',0.72).attr('stroke-width',2.8);
  gd.append('path').datum(series(truthTeo)).attr('d',ln).attr('fill','none').attr('stroke',blue).attr('stroke-opacity',0.72).attr('stroke-width',2.8);
  gd.append('path').datum(series(predKane)).attr('d',ln).attr('fill','none').attr('stroke',red).attr('stroke-opacity',0.6).attr('stroke-width',3).attr('stroke-dasharray','3,4.5');
  gd.append('path').datum(series(predTeo)).attr('d',ln).attr('fill','none').attr('stroke',blue).attr('stroke-opacity',0.6).attr('stroke-width',3).attr('stroke-dasharray','3,4.5');
  drawAxes(g,p,y,countTickValues,d3.format('d'),true);
  g.append('text').attr('transform',`translate(44,${(p.top+p.bottom)/2}) rotate(-90)`).attr('text-anchor','middle')
   .attr('font-size',16).attr('fill','#000').text('Count');
  g.append('text').attr('x',(FIG.left+FIG.right)/2).attr('y',1471).attr('text-anchor','middle')
   .attr('font-size',FS.xlabel).attr('fill','#000').text('Fight time (seconds)');
  // legend upper-left
  const fs=FS.legend, pad=0.4*fs, hl=2*fs, htp=0.8*fs, rowH=15.05, ls=0.5*fs;
  const lg=g.append('g'); const frame=lg.append('rect');
  const ws=countLegendLabels.map(n=>{const t=lg.append('text').attr('font-size',fs).text(n);const w=t.node().getComputedTextLength();t.remove();return w;});
  const bw=2*pad+hl+htp+Math.max(...ws), bh=2*pad+4*rowH+3*ls;
  const bx=FIG.left+0.5*fs, by=p.top+0.5*fs;
  frame.attr('x',bx).attr('y',by).attr('width',bw).attr('height',bh).attr('rx',2.9)
    .attr('fill','#fff').attr('fill-opacity',0.8).attr('stroke','#cccccc').attr('stroke-width',1.3);
  const styles=[[red,0.72,null],[blue,0.72,null],[red,0.6,'3,4.5'],[blue,0.6,'3,4.5']];
  countLegendLabels.forEach((lab,i)=>{
    const cy=by+pad+i*(rowH+ls)+rowH/2;
    const l=lg.append('line').attr('x1',bx+pad).attr('x2',bx+pad+hl).attr('y1',cy).attr('y2',cy)
      .attr('stroke',styles[i][0]).attr('stroke-opacity',styles[i][1]).attr('stroke-width',styles[i][2]?3:2.8);
    if(styles[i][2]) l.attr('stroke-dasharray',styles[i][2]);
    lg.append('text').attr('x',bx+pad+hl+htp).attr('y',cy+0.36*fs).attr('font-size',fs).attr('fill','#000').text(lab);
  });
})();
</script>
</body></html>
